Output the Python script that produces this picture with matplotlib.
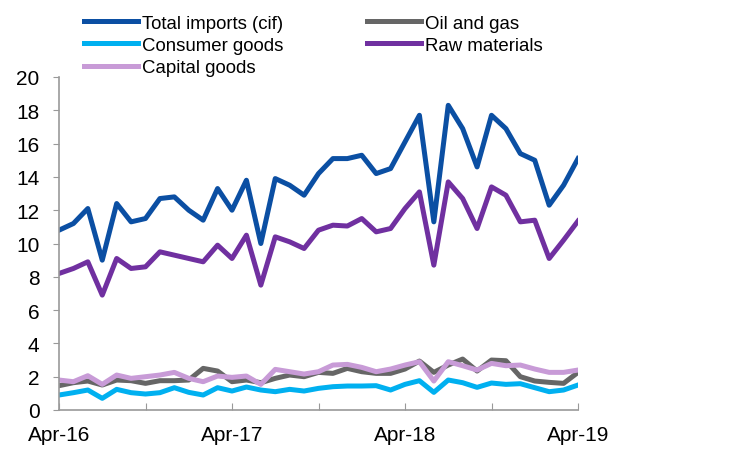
import matplotlib
matplotlib.use("Agg")
import matplotlib.pyplot as plt
import numpy as np

plt.rcParams['font.family'] = ['Liberation Sans', 'DejaVu Sans']

tick_labels = ["Apr-16", "", "Apr-17", "", "Apr-18", "", "Apr-19"]

total_imports = [10.8, 11.2, 12.1, 9.0, 12.4, 11.3, 11.5, 12.7, 12.8, 12.0, 11.4, 13.3,
                 12.0, 13.8, 10.0, 13.9, 13.5, 12.9, 14.2, 15.1, 15.1, 15.3, 14.2, 14.5,
                 16.1, 17.7, 11.3, 18.3, 16.9, 14.6, 17.7, 16.9, 15.4, 15.0, 12.3, 13.5, 15.1]
raw_materials = [8.2, 8.5, 8.9, 6.9, 9.1, 8.5, 8.6, 9.5, 9.3, 9.1, 8.9, 9.9,
                 9.1, 10.5, 7.5, 10.4, 10.1, 9.7, 10.8, 11.1, 11.05, 11.5, 10.7, 10.9,
                 12.1, 13.1, 8.7, 13.7, 12.7, 10.9, 13.4, 12.9, 11.3, 11.4, 9.1, 10.2, 11.35]
consumer_goods = [0.9, 1.04, 1.2, 0.7, 1.24, 1.04, 0.96, 1.04, 1.34, 1.06, 0.9, 1.34,
                  1.14, 1.38, 1.2, 1.1, 1.24, 1.14, 1.3, 1.4, 1.44, 1.44, 1.46, 1.2,
                  1.54, 1.76, 1.06, 1.8, 1.64, 1.36, 1.62, 1.54, 1.58, 1.34, 1.1, 1.2, 1.5]
capital_goods = [1.8, 1.7, 2.06, 1.54, 2.1, 1.9, 2.0, 2.1, 2.26, 1.9, 1.7, 2.04,
                 1.96, 2.04, 1.54, 2.44, 2.3, 2.16, 2.3, 2.7, 2.74, 2.56, 2.3, 2.46,
                 2.7, 2.9, 1.74, 2.9, 2.66, 2.4, 2.8, 2.66, 2.7, 2.46, 2.26, 2.26, 2.4]
oil_and_gas = [1.46, 1.64, 1.74, 1.5, 1.8, 1.76, 1.6, 1.76, 1.76, 1.8, 2.5, 2.34,
               1.7, 1.8, 1.64, 1.9, 2.1, 2.0, 2.26, 2.2, 2.5, 2.3, 2.2, 2.2,
               2.46, 2.94, 2.26, 2.7, 3.06, 2.34, 3.0, 2.96, 2.0, 1.74, 1.66, 1.6, 2.26]

x = np.arange(len(total_imports))

fig = plt.figure(figsize=(7.35, 4.52), dpi=100)
ax = fig.add_axes([59/735, 1 - 411/452, (578 - 59)/735, (411 - 78)/452])

lw = 3.6
l_tot, = ax.plot(x, total_imports, color='#0B4FA3', lw=lw, label='Total imports (cif)')
l_oil, = ax.plot(x, oil_and_gas, color='#666666', lw=lw, label='Oil and gas')
l_raw, = ax.plot(x, raw_materials, color='#7030A0', lw=lw, label='Raw materials')
l_con, = ax.plot(x, consumer_goods, color='#00B0F0', lw=lw, label='Consumer goods')
l_cap, = ax.plot(x, capital_goods, color='#C89BD7', lw=lw, label='Capital goods')

ax.set_xlim(0, 36)
ax.set_ylim(0, 20)
ax.set_yticks(np.arange(0, 21, 2))
ax.set_xticks(np.arange(0, 37, 6))
ax.set_xticklabels(tick_labels)

for s in ['top', 'right']:
    ax.spines[s].set_visible(False)
for s in ['left', 'bottom']:
    ax.spines[s].set_color('#999999')
    ax.spines[s].set_linewidth(1.2)

ax.tick_params(axis='y', direction='out', length=4, color='#999999', labelsize=15, pad=10)
ax.tick_params(axis='x', direction='in', length=5, color='#999999', labelsize=15, pad=10.5)

fig.legend(handles=[l_tot, l_con, l_cap, l_oil, l_raw], ncol=2, loc='upper left',
           bbox_to_anchor=(84/735, 1 - 15.5/452), frameon=False, fontsize=13.4,
           handlelength=2.9, handletextpad=0.2, columnspacing=4.5,
           labelspacing=0.29, borderpad=0, borderaxespad=0)

fig.savefig('out.png', dpi=100)
